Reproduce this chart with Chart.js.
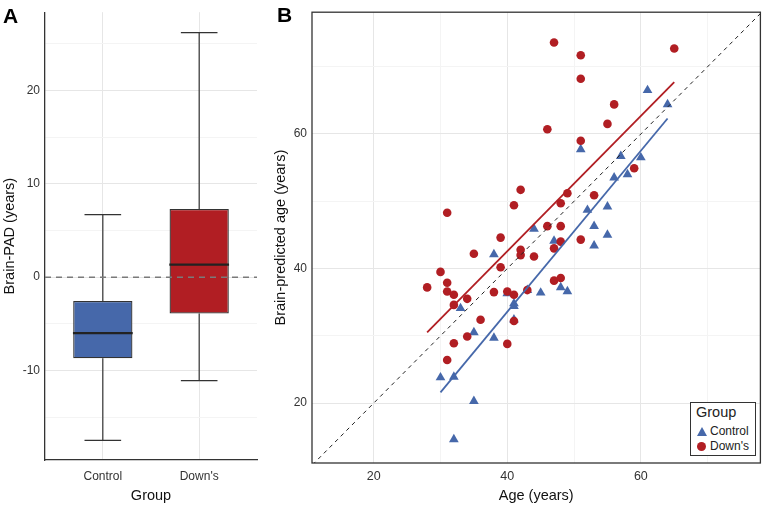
<!DOCTYPE html>
<html>
<head>
<meta charset="utf-8">
<script src="https://cdn.jsdelivr.net/npm/chart.js@4.4.1/dist/chart.umd.min.js"></script>
<style>
body { margin: 0; background: #fff; font-family: "Liberation Sans", Arial, sans-serif; }
#wrap { position: relative; width: 766px; height: 505px; overflow: hidden; }
#panelA { position: absolute; left: 0; top: 0; width: 262px; height: 505px; }
#panelB { position: absolute; left: 262px; top: 0; width: 504px; height: 505px; }
.tag { position: absolute; font-weight: bold; font-size: 21px; line-height: 21px; color: #000; }
#legend { position: absolute; left: 690px; top: 402px; width: 64px; height: 52px; border: 1.5px solid #333; background: #fff; color: #222; }
#legend .ttl { position: absolute; left: 5px; top: 1px; font-size: 14.5px; }
#legend .row { position: absolute; left: 6px; font-size: 12px; line-height: 14px; }
#legend .tri { display: inline-block; width: 0; height: 0; border-left: 5px solid transparent; border-right: 5px solid transparent; border-bottom: 9px solid #4668aa; margin-right: 3px; vertical-align: -1px; }
#legend .dot { display: inline-block; width: 9px; height: 9px; border-radius: 50%; background: #b11e23; margin-right: 4px; vertical-align: -1px; }
</style>
</head>
<body>
<div id="wrap">
  <div id="panelA"><canvas id="boxChart"></canvas></div>
  <div id="panelB"><canvas id="scatterChart"></canvas></div>
  <div class="tag" style="left:3px;top:5px;">A</div>
  <div class="tag" style="left:277px;top:4px;">B</div>
  <div id="legend">
    <div class="ttl">Group</div>
    <div class="row" style="top:21px;"><span class="tri"></span>Control</div>
    <div class="row" style="top:36px;"><span class="dot"></span>Down's</div>
  </div>
</div>
<script>
// panel A: brain-PAD summary per group
const groups = ["Control", "Down's"];
const padMin = [-17.5, -11.1];
const padQ1 = [-8.7, -3.9];
const padMedian = [-6.0, 1.35];
const padQ3 = [-2.55, 7.3];
const padMax = [6.7, 26.2];

// panel B: age vs brain-predicted age
const controlAge = [61, 64, 51, 57, 60, 56, 58, 52, 55, 53, 55, 53, 44, 47, 38, 48, 49, 40, 43, 45, 33, 41, 41, 41, 35, 38, 30, 32, 35, 32];
const controlPred = [66.5, 64.4, 57.7, 56.7, 56.5, 53.5, 54.0, 48.7, 49.2, 46.3, 45.0, 43.4, 45.9, 44.1, 42.1, 37.2, 36.6, 36.3, 36.8, 36.4, 34.1, 34.8, 34.4, 32.4, 30.5, 29.7, 23.8, 23.9, 20.3, 14.6];
const downsAge = [47, 51, 51, 65, 56, 55, 46, 51, 59, 42, 49, 53, 48, 41, 31, 46, 48, 39, 51, 48, 47, 42, 35, 42, 44, 39, 30, 28, 31, 31, 32, 34, 32, 38, 40, 41, 43, 47, 48, 36, 41, 34, 32, 40, 31];
const downsPred = [73.6, 71.7, 68.2, 72.7, 64.4, 61.5, 60.7, 59.0, 54.9, 51.7, 51.2, 50.9, 49.7, 49.4, 48.3, 46.3, 46.3, 44.6, 44.3, 44.0, 43.0, 42.8, 42.2, 42.0, 41.8, 40.2, 39.5, 37.2, 37.9, 36.6, 36.1, 35.5, 34.6, 36.5, 36.6, 36.1, 36.8, 38.2, 38.6, 32.4, 32.2, 29.9, 28.9, 28.8, 26.4];
const controlFitAge = [30, 64];
const controlFitPred = [21.6, 62.3];
const downsFitAge = [28, 65];
const downsFitPred = [30.5, 67.7];
const identityAge = [10, 80];
const identityPred = [10, 80];

const blue = "#4668aa";
const red = "#b11e23";
const ink = "#333333";
const majorGrid = "#e6e6e6";
const minorGrid = "#f4f4f4";

function pairs(xs, ys) {
    return xs.map((x, i) => ({ x: x, y: ys[i] }));
}

function segment(x1, y1, x2, y2, color, width, dash) {
    return {
        type: "line",
        data: [{ x: x1, y: y1 }, { x: x2, y: y2 }],
        borderColor: color,
        borderWidth: width,
        borderDash: dash || [],
        pointRadius: 0,
        fill: false,
    };
}

const frame = {
    id: "frame",
    afterDatasetsDraw(chart, args, opts) {
        if (!opts.full) return;
        const a = chart.chartArea;
        const ctx = chart.ctx;
        ctx.save();
        ctx.strokeStyle = ink;
        ctx.lineWidth = 1.3;
        ctx.strokeRect(a.left, a.top, a.right - a.left, a.bottom - a.top);
        ctx.restore();
    },
};

function createBoxChart() {
    const ctx = document.getElementById("boxChart");
    const halfBox = 0.31;
    const halfCap = 0.19;
    const datasets = [];
    datasets.push(segment(0.4, 0, 2.6, 0, "#7a7a7a", 1.5, [6, 5]));
    groups.forEach((g, i) => {
        const x = i + 1;
        datasets.push(segment(x - halfBox, padMedian[i], x + halfBox, padMedian[i], "#222", 2.2));
        datasets.push(segment(x, padQ3[i], x, padMax[i], ink, 1.2));
        datasets.push(segment(x, padQ1[i], x, padMin[i], ink, 1.2));
        datasets.push(segment(x - halfCap, padMax[i], x + halfCap, padMax[i], ink, 1.2));
        datasets.push(segment(x - halfCap, padMin[i], x + halfCap, padMin[i], ink, 1.2));
    });
    datasets.push({
        type: "bar",
        data: groups.map((g, i) => ({ x: i + 1, y: [padQ1[i], padQ3[i]] })),
        backgroundColor: [blue, red],
        borderColor: ink,
        borderWidth: 1.3,
        borderSkipped: false,
        categoryPercentage: 1,
        barPercentage: 0.615,
    });
    const config = {
        type: "bar",
        data: { datasets: datasets },
        options: {
            responsive: true,
            maintainAspectRatio: false,
            animation: false,
            layout: { padding: { top: 7, right: 5, left: 0, bottom: 0 } },
            plugins: { legend: { display: false }, tooltip: { enabled: false }, frame: { full: false } },
            scales: {
                x: {
                    type: "linear",
                    min: 0.4,
                    max: 2.6,
                    offset: false,
                    afterFit: (s) => { s.height = 45; },
                    afterBuildTicks: (s) => { s.ticks = groups.map((g, i) => ({ value: i + 1 })); },
                    grid: { color: majorGrid, drawTicks: false, offset: false },
                    border: { display: true, color: ink, width: 1.3 },
                    ticks: {
                        padding: 9,
                        color: ink,
                        font: { size: 12, family: "Liberation Sans" },
                        callback: (v) => groups[Math.round(v) - 1],
                    },
                    title: { display: true, text: "Group", color: "#111", font: { size: 14.5, family: "Liberation Sans" }, padding: { top: 0, bottom: 0 } },
                },
                y: {
                    min: -19.6,
                    max: 28.4,
                    afterFit: (s) => { s.width = 45; },
                    afterBuildTicks: (s) => {
                        const t = [];
                        for (let v = -15; v <= 25; v += 5) t.push({ value: v });
                        s.ticks = t;
                    },
                    grid: { color: (c) => (c.tick && c.tick.value % 10 === 0 ? majorGrid : minorGrid), drawTicks: false },
                    border: { display: true, color: ink, width: 1.3 },
                    ticks: {
                        padding: 5,
                        color: ink,
                        font: { size: 12, family: "Liberation Sans" },
                        callback: (v) => (v % 10 === 0 ? String(v) : ""),
                    },
                    title: { display: true, text: "Brain-PAD (years)", color: "#111", font: { size: 14.5, family: "Liberation Sans" }, padding: { top: 1, bottom: 0 } },
                },
            },
        },
        plugins: [frame],
    };
    new Chart(ctx, config);
}

function createScatterChart() {
    const ctx = document.getElementById("scatterChart");
    const config = {
        type: "scatter",
        data: {
            datasets: [
                {
                    data: pairs(identityAge, identityPred),
                    showLine: true,
                    borderColor: "#222",
                    borderWidth: 1,
                    borderDash: [4, 4],
                    pointRadius: 0,
                },
                {
                    data: pairs(downsFitAge, downsFitPred),
                    showLine: true,
                    borderColor: red,
                    borderWidth: 1.8,
                    pointRadius: 0,
                },
                {
                    data: pairs(controlFitAge, controlFitPred),
                    showLine: true,
                    borderColor: blue,
                    borderWidth: 1.8,
                    pointRadius: 0,
                },
                {
                    label: "Down's",
                    data: pairs(downsAge, downsPred),
                    pointStyle: "circle",
                    pointRadius: 4.3,
                    pointBorderWidth: 0,
                    backgroundColor: red,
                    borderColor: red,
                },
                {
                    label: "Control",
                    data: pairs(controlAge, controlPred),
                    pointStyle: "triangle",
                    pointRadius: 5.6,
                    pointBorderWidth: 0,
                    backgroundColor: blue,
                    borderColor: blue,
                },
            ],
        },
        options: {
            responsive: true,
            maintainAspectRatio: false,
            animation: false,
            layout: { padding: { top: 7, right: 3, left: 0, bottom: 0 } },
            plugins: { legend: { display: false }, tooltip: { enabled: false }, frame: { full: true } },
            scales: {
                x: {
                    type: "linear",
                    min: 10.76,
                    max: 77.9,
                    afterFit: (s) => { s.height = 42; },
                    afterBuildTicks: (s) => {
                        const t = [];
                        for (let v = 20; v <= 70; v += 10) t.push({ value: v });
                        s.ticks = t;
                    },
                    grid: { color: (c) => (c.tick && c.tick.value % 20 === 0 ? majorGrid : minorGrid), drawTicks: false },
                    border: { display: false },
                    ticks: {
                        padding: 6,
                        color: ink,
                        font: { size: 12.5, family: "Liberation Sans" },
                        callback: (v) => (v % 20 === 0 ? String(v) : ""),
                    },
                    title: { display: true, text: "Age (years)", color: "#111", font: { size: 14.5, family: "Liberation Sans" }, padding: { top: 0, bottom: 0 } },
                },
                y: {
                    min: 11.1,
                    max: 78.1,
                    afterFit: (s) => { s.width = 50; },
                    afterBuildTicks: (s) => {
                        const t = [];
                        for (let v = 20; v <= 70; v += 10) t.push({ value: v });
                        s.ticks = t;
                    },
                    grid: { color: (c) => (c.tick && c.tick.value % 20 === 0 ? majorGrid : minorGrid), drawTicks: false },
                    border: { display: false },
                    ticks: {
                        padding: 5,
                        color: ink,
                        font: { size: 12, family: "Liberation Sans" },
                        callback: (v) => (v % 20 === 0 ? String(v) : ""),
                    },
                    title: { display: true, text: "Brain-predicted age (years)", color: "#111", font: { size: 14.5, family: "Liberation Sans" }, padding: { top: 10, bottom: 0 } },
                },
            },
        },
        plugins: [frame],
    };
    new Chart(ctx, config);
}

createBoxChart();
createScatterChart();
</script>
</body>
</html>
